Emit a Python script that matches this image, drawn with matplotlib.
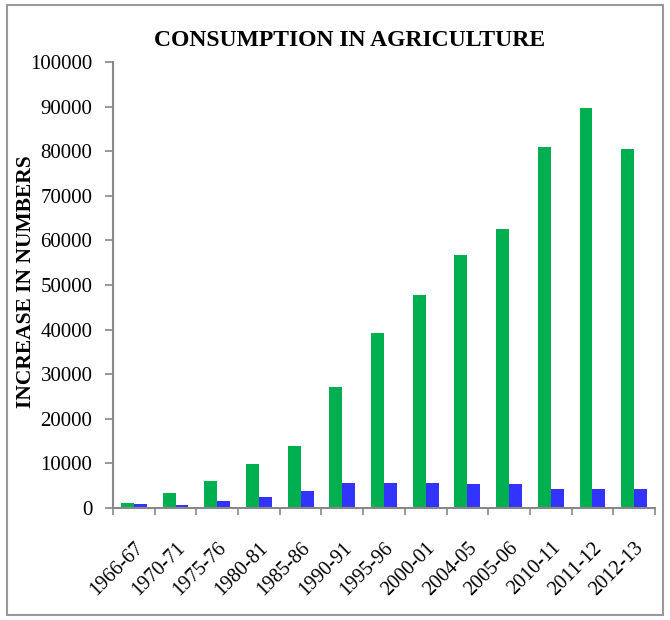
import matplotlib
matplotlib.use("Agg")
import matplotlib.pyplot as plt
from matplotlib.patches import Rectangle
import numpy as np

categories = ["1966-67", "1970-71", "1975-76", "1980-81", "1985-86", "1990-91",
              "1995-96", "2000-01", "2004-05", "2005-06", "2010-11", "2011-12", "2012-13"]
green_vals = [1100, 3400, 6100, 9800, 13800, 27100, 39200, 47800, 56800, 62600, 80900, 89700, 80500]
blue_vals = [800, 700, 1600, 2500, 3900, 5700, 5700, 5700, 5300, 5300, 4300, 4300, 4300]
yticks = [0, 10000, 20000, 30000, 40000, 50000, 60000, 70000, 80000, 90000, 100000]

plt.rcParams['font.family'] = ['Liberation Serif', 'DejaVu Serif']

fig = plt.figure(figsize=(6.7, 6.2), dpi=100)
ax = fig.add_axes([113/670, 1-508/620, (655-113)/670, (508-62)/620])

x = np.arange(len(categories))
w = 0.31
ax.bar(x - w/2, green_vals, width=w, color="#00B050", linewidth=0)
ax.bar(x + w/2, blue_vals, width=w, color="#3333FF", linewidth=0)

ax.set_xlim(-0.5, len(categories) - 0.5)
ax.set_ylim(0, 100000)
ax.set_yticks(yticks)
ax.set_yticklabels([str(v) for v in yticks], fontsize=15)

ax.set_xticks(x)
ax.set_xticklabels(categories, rotation=45, ha='right', rotation_mode='anchor', fontsize=14.5)
ax.tick_params(axis='x', which='major', length=0, pad=22)
ax.set_xticks(np.arange(-0.5, len(categories)), minor=True)
ax.tick_params(axis='x', which='minor', length=5, color='#888888', width=1.2)
ax.tick_params(axis='y', length=5.8, color='#888888', width=1.2, pad=9)

for s in ['top', 'right']:
    ax.spines[s].set_visible(False)
for s in ['left', 'bottom']:
    ax.spines[s].set_color('#888888')
    ax.spines[s].set_linewidth(1.5)

fig.text(350/670, 1-41/620, "CONSUMPTION IN AGRICULTURE", ha='center', va='center',
         fontsize=17, fontweight='bold')
fig.text(26/670, 1-282/620, "INCREASE IN NUMBERS", ha='center', va='center',
         rotation=90, fontsize=15.5, fontweight='bold')

fig.patches.append(Rectangle((7/670, 1-615/620), (663-7)/670, (615-5)/620,
                             transform=fig.transFigure, fill=False,
                             edgecolor='#999999', linewidth=1.5))

fig.savefig("out.png", dpi=100)
